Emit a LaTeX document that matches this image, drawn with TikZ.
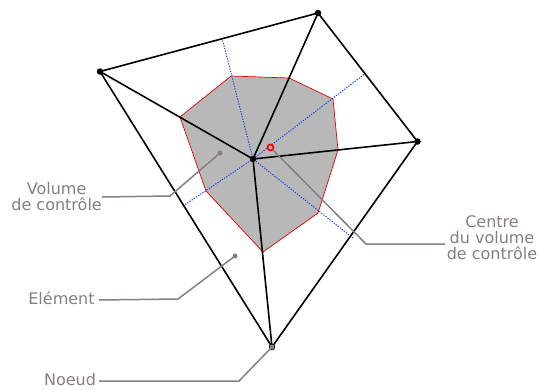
\documentclass[tikz,border=0pt]{standalone}
\usepackage{fontspec}
\usetikzlibrary{backgrounds}
\setmainfont{DejaVu Sans}
\definecolor{lead}{RGB}{135,127,127}
\definecolor{dualblue}{RGB}{30,70,235}
\tikzset{
  mesh/.style={black,line width=1.6pt},
  dual/.style={dualblue,line width=1pt,dash pattern=on 1.3pt off 1.3pt},
  cv/.style={fill=black!28,draw=red!90!black,line width=0.7pt,line join=round},
  leader/.style={lead,line width=1.5pt},
  dotn/.style={circle,fill=black,inner sep=0pt,minimum size=6.5pt},
  tip/.style={circle,fill=lead,inner sep=0pt,minimum size=5pt},
  lab/.style={text=lead,font=\fontsize{16}{16}\selectfont,align=center,inner sep=0pt},
}
\begin{document}
\begin{tikzpicture}[x=1pt,y=-1pt]
\useasboundingbox (0,0) rectangle (539,389);
\coordinate (b1) at (231,76);
\coordinate (b2) at (289,78);
\coordinate (b3) at (333,99);
\coordinate (b4) at (338,150);
\coordinate (b5) at (318,213);
\coordinate (b6) at (263,252);
\coordinate (b7) at (206,191);
\coordinate (b8) at (180,117);
\coordinate (d1) at (222,38);
\coordinate (d2) at (366,73);
\coordinate (d3) at (183,206);
\coordinate (d4) at (353,238);
\node[dotn] (c) at (253,159) {};
\node[dotn] (n1) at (318,13) {};
\node[dotn] (n2) at (417.5,141.5) {};
\node[dotn] (n3) at (272,347) {};
\node[dotn] (n4) at (100,71.5) {};
\begin{scope}[on background layer]
\filldraw[cv] (b1)--(b2)--(b3)--(b4)--(b5)--(b6)--(b7)--(b8)--cycle;
\draw[dual] (d1)--(c.center);
\draw[dual] (d2)--(c.center);
\draw[dual] (d3)--(c.center);
\draw[dual] (d4)--(c.center);
\draw[mesh,line join=round] (n1.center)--(n2.center)--(n3.center)--(n4.center)--cycle;
\foreach \n in {n1,n2,n3,n4} \draw[mesh] (c.center)--(\n.center);
\end{scope}
\node[circle,draw=red,line width=1.7pt,fill=black!28,inner sep=0pt,minimum size=6pt] (g) at (270.5,147.5) {};
\node[tip] (t1) at (220,153) {};
\node[tip] (t2) at (235,256) {};
\node[tip] (t3) at (272,347) {};
\node[lab,anchor=east] (l1) at (102,197) {Volume\\de contrôle};
\node[lab] (l2) at (61.5,298) {Elément};
\node[lab] (l3) at (70,379.5) {Noeud};
\node[lab] (l4) at (492,238) {Centre\\du volume\\de contrôle};
\coordinate (e1) at (170,196);
\coordinate (e2) at (178,299);
\coordinate (e3) at (239,381);
\coordinate (e4) at (366,244);
\draw[leader] (t1.center)--(e1)--(l1.east);
\draw[leader] (t2.center)--(e2)--(99,300);
\draw[leader] (t3.center)--(e3)--(99,381);
\draw[leader] (g)--(e4)--(445,244);
\end{tikzpicture}
\end{document}
